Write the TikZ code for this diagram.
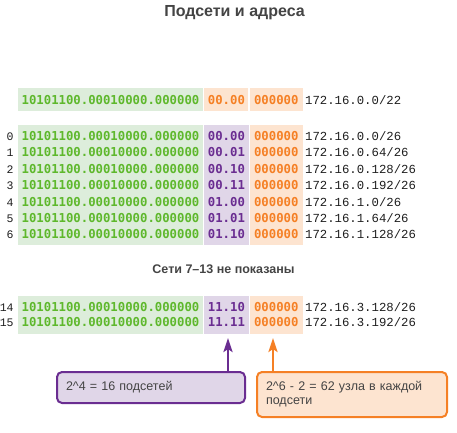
\documentclass[tikz,border=0pt]{standalone}
\usepackage{fontspec}
\setmainfont{Liberation Sans}
\setmonofont{Liberation Mono}
\newfontfamily\binfont{DejaVu Sans Mono}
\usetikzlibrary{positioning,fit,backgrounds,arrows.meta}

\definecolor{netgreen}{RGB}{94,184,44}
\definecolor{netfill}{RGB}{221,237,219}
\definecolor{subpurple}{RGB}{106,45,145}
\definecolor{subfill}{RGB}{224,214,232}
\definecolor{hostorange}{RGB}{245,128,37}
\definecolor{hostfill}{RGB}{253,228,208}
\definecolor{textgray}{RGB}{68,68,68}
\definecolor{addrblack}{RGB}{30,30,30}

\begin{document}
\begin{tikzpicture} [
                x=1pt, y=-1pt,
                cell/.style={
                    rectangle,
                    inner sep=0pt,
                    text height=9pt,
                    text depth=0pt,
                    minimum height=16pt
                },
                netcell/.style={cell, minimum width=185pt, text=netgreen, font=\binfont\bfseries\fontsize{12.3}{14}\selectfont},
                subcell/.style={cell, minimum width=44pt, text=subpurple, font=\binfont\bfseries\fontsize{12.3}{14}\selectfont},
                hostcell/.style={cell, minimum width=53pt, text=hostorange, font=\binfont\bfseries\fontsize{12.3}{14}\selectfont},
                addrcell/.style={cell, text=addrblack, font=\ttfamily\fontsize{12.3}{14}\selectfont},
                numcell/.style={cell, text=addrblack, font=\ttfamily\fontsize{11.5}{14}\selectfont},
                toprow/.style={minimum height=23pt},
                lowrow/.style={minimum height=15pt},
                blockbg/.style={inner xsep=0pt, inner ysep=#1},
                notebox/.style={
                    rectangle,
                    rounded corners=5pt,
                    line width=2pt,
                    align=left,
                    inner xsep=9pt,
                    text=textgray,
                    font=\fontsize{12.5}{14}\selectfont
                },
                subnote/.style={notebox, draw=subpurple, fill=subfill, minimum width=188pt, minimum height=31pt, text width=170pt},
                hostnote/.style={notebox, draw=hostorange, fill=hostfill, minimum width=190pt, minimum height=45pt, text width=172pt},
                notearrow/.style={line width=2.5pt, -{Stealth[length=14pt, width=9pt, inset=3pt]}}
            ]
                \useasboundingbox (0,0) rectangle (457,432);

                \node[text=textgray, font=\bfseries\fontsize{16}{18}\selectfont] (title) at (234.5,13) {Подсети и адреса};

                % network /22
                \node[netcell, toprow, fill=netfill] (tn) at (110.5,99.5)     {10101100.00010000.000000};
                \node[hostcell, toprow, minimum width=44pt, fill=hostfill] (ts) [right=1pt of tn] {00.00};
                \node[hostcell, toprow, fill=hostfill] (th) [right=1pt of ts] {000000};
                \node[addrcell] (ta) [right=2pt of th]                        {172.16.0.0/22};

                % subnets 0-6
                \node[netcell] (n0) at (110.5,136)      {10101100.00010000.000000};
                \node[netcell] (n1) [below=0pt of n0]   {10101100.00010000.000000};
                \node[netcell] (n2) [below=0pt of n1]   {10101100.00010000.000000};
                \node[netcell] (n3) [below=0pt of n2]   {10101100.00010000.000000};
                \node[netcell] (n4) [below=0pt of n3]   {10101100.00010000.000000};
                \node[netcell] (n5) [below=0pt of n4]   {10101100.00010000.000000};
                \node[netcell] (n6) [below=0pt of n5]   {10101100.00010000.000000};
                \node[subcell] (s0) [right=1pt of n0]   {00.00};
                \node[subcell] (s1) [right=1pt of n1]   {00.01};
                \node[subcell] (s2) [right=1pt of n2]   {00.10};
                \node[subcell] (s3) [right=1pt of n3]   {00.11};
                \node[subcell] (s4) [right=1pt of n4]   {01.00};
                \node[subcell] (s5) [right=1pt of n5]   {01.01};
                \node[subcell] (s6) [right=1pt of n6]   {01.10};
                \node[hostcell] (h0) [right=1pt of s0]  {000000};
                \node[hostcell] (h1) [right=1pt of s1]  {000000};
                \node[hostcell] (h2) [right=1pt of s2]  {000000};
                \node[hostcell] (h3) [right=1pt of s3]  {000000};
                \node[hostcell] (h4) [right=1pt of s4]  {000000};
                \node[hostcell] (h5) [right=1pt of s5]  {000000};
                \node[hostcell] (h6) [right=1pt of s6]  {000000};
                \node[addrcell] (a0) [right=2pt of h0]  {172.16.0.0/26};
                \node[addrcell] (a1) [right=2pt of h1]  {172.16.0.64/26};
                \node[addrcell] (a2) [right=2pt of h2]  {172.16.0.128/26};
                \node[addrcell] (a3) [right=2pt of h3]  {172.16.0.192/26};
                \node[addrcell] (a4) [right=2pt of h4]  {172.16.1.0/26};
                \node[addrcell] (a5) [right=2pt of h5]  {172.16.1.64/26};
                \node[addrcell] (a6) [right=2pt of h6]  {172.16.1.128/26};
                \node[numcell] (r0) [left=4pt of n0]    {0};
                \node[numcell] (r1) [left=4pt of n1]    {1};
                \node[numcell] (r2) [left=4pt of n2]    {2};
                \node[numcell] (r3) [left=4pt of n3]    {3};
                \node[numcell] (r4) [left=4pt of n4]    {4};
                \node[numcell] (r5) [left=4pt of n5]    {5};
                \node[numcell] (r6) [left=4pt of n6]    {6};

                \node[text=textgray, font=\bfseries\fontsize{12.5}{14}\selectfont] (gap) at (223.5,269) {Сети 7–13 не показаны};

                % subnets 14-15
                \node[netcell, lowrow] (n14) at (110.5,307)     {10101100.00010000.000000};
                \node[netcell, lowrow] (n15) [below=0pt of n14] {10101100.00010000.000000};
                \node[subcell, lowrow] (s14) [right=1pt of n14] {11.10};
                \node[subcell, lowrow] (s15) [right=1pt of n15] {11.11};
                \node[hostcell, lowrow] (h14) [right=1pt of s14] {000000};
                \node[hostcell, lowrow] (h15) [right=1pt of s15] {000000};
                \node[addrcell, lowrow] (a14) [right=2pt of h14] {172.16.3.128/26};
                \node[addrcell, lowrow] (a15) [right=2pt of h15] {172.16.3.192/26};
                \node[numcell, lowrow] (r14) [left=4pt of n14]   {14};
                \node[numcell, lowrow] (r15) [left=4pt of n15]   {15};

                \begin{scope}[on background layer]
                    \node[blockbg=2.5pt, fill=netfill, fit=(n0)(n6)] (netbg) {};
                    \node[blockbg=2.5pt, fill=subfill, fit=(s0)(s6)] (subbg) {};
                    \node[blockbg=2.5pt, fill=hostfill, fit=(h0)(h6)] (hostbg) {};
                    \node[blockbg=3.5pt, fill=netfill, fit=(n14)(n15)] (netbglow) {};
                    \node[blockbg=3.5pt, fill=subfill, fit=(s14)(s15)] (subbglow) {};
                    \node[blockbg=3.5pt, fill=hostfill, fit=(h14)(h15)] (hostbglow) {};
                \end{scope}

                % notes
                \node[subnote] (subbox) at (151,387.5)  {2\textasciicircum4 = 16 подсетей};
                \node[hostnote] (hostbox) at (352,394.5) {2\textasciicircum6 - 2 = 62 узла в каждой подсети};
                \coordinate (subtip) at (228,338);
                \coordinate (hosttip) at (273,338);
                \draw[notearrow, subpurple] (subbox.north -| subtip) -- (subtip);
                \draw[notearrow, hostorange] (hostbox.north -| hosttip) -- (hosttip);
            \end{tikzpicture}
\end{document}
